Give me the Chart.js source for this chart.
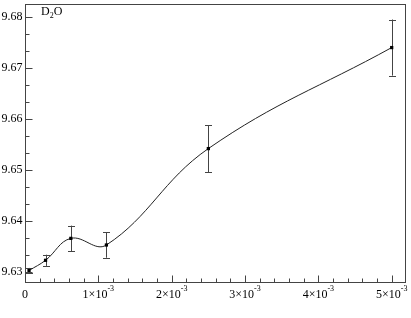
<!DOCTYPE html>
<html>
<head>
<meta charset="utf-8">
<script src="https://cdn.jsdelivr.net/npm/chart.js@4"></script>
<style>
  html, body { margin: 0; padding: 0; background: #fff; }
  #wrap { width: 411px; height: 318px; }
</style>
</head>
<body>
<div id="wrap"><canvas id="plot"></canvas></div>
<script>
// concentration (x) and measured value (y) with error bars
const xVals = [5.5e-5, 2.8e-4, 6.25e-4, 1.11e-3, 2.5e-3, 5.0e-3];
const yVals = [9.6303, 9.6323, 9.6366, 9.6353, 9.6542, 9.6740];
const yErr = [0.0005, 0.0011, 0.0025, 0.0025, 0.0046, 0.0055];

// tick labels
const xTicks = [0, 1e-3, 2e-3, 3e-3, 4e-3, 5e-3];
const xTickMant = ['0', '1', '2', '3', '4', '5'];
const yTicks = [9.63, 9.64, 9.65, 9.66, 9.67, 9.68];

const serif = '"Liberation Serif", "Times New Roman", serif';

// error bars drawn under the line
const errorBars = {
    id: 'errorBars',
    beforeDatasetsDraw(chart) {
        const { ctx, scales: { x, y } } = chart;
        ctx.save();
        ctx.strokeStyle = '#444';
        ctx.lineWidth = 1;
        xVals.forEach((xv, i) => {
            const px = Math.round(x.getPixelForValue(xv)) + 0.5;
            const top = y.getPixelForValue(yVals[i] + yErr[i]);
            const bot = y.getPixelForValue(yVals[i] - yErr[i]);
            ctx.beginPath();
            ctx.moveTo(px, top); ctx.lineTo(px, bot);
            ctx.moveTo(px - 3.5, Math.round(top) + 0.5); ctx.lineTo(px + 3.5, Math.round(top) + 0.5);
            ctx.moveTo(px - 3.5, Math.round(bot) + 0.5); ctx.lineTo(px + 3.5, Math.round(bot) + 0.5);
            ctx.stroke();
        });
        ctx.restore();
    }
};

// frame, inward ticks, labels
const frame = {
    id: 'frame',
    afterDraw(chart) {
        const { ctx, chartArea: a, scales: { x, y } } = chart;
        ctx.save();
        ctx.strokeStyle = '#444';
        ctx.lineWidth = 1;
        const L = Math.round(a.left) + 0.5, R = Math.round(a.right) - 0.5;
        const T = Math.round(a.top) + 0.5, B = Math.round(a.bottom) - 0.5;
        ctx.strokeRect(L, T, R - L, B - T);

        ctx.beginPath();
        // x ticks, minor every 2e-4
        for (let k = 0; k <= 26; k++) {
            const v = k * 2e-4;
            const px = Math.round(x.getPixelForValue(v)) + 0.5;
            if (px <= L || px >= R) continue;
            const len = (k % 5 === 0) ? 7 : 4;
            ctx.moveTo(px, B); ctx.lineTo(px, B - len);
        }
        // y ticks, minor every 0.01/3
        for (let k = -1; k <= 16; k++) {
            const v = 9.63 + k * 0.01 / 3;
            if (v < y.min || v > y.max) continue;
            const py = Math.round(y.getPixelForValue(v)) + 0.5;
            const len = (k % 3 === 0) ? 7 : 4;
            ctx.moveTo(L, py); ctx.lineTo(L + len, py);
        }
        ctx.stroke();

        ctx.fillStyle = '#000';
        ctx.font = '12px ' + serif;
        ctx.textBaseline = 'middle';
        ctx.textAlign = 'right';
        yTicks.forEach(v => {
            ctx.fillText(v.toFixed(2), L - 3, y.getPixelForValue(v));
        });

        // x labels with superscript exponent
        ctx.textAlign = 'left';
        xTicks.forEach((v, i) => {
            const px = x.getPixelForValue(v);
            const by = B + 12;
            if (v === 0) {
                ctx.font = '12px ' + serif;
                const w = ctx.measureText('0').width;
                ctx.fillText('0', px - w / 2, by);
                return;
            }
            const main = xTickMant[i] + '\u00d710';
            ctx.font = '12px ' + serif;
            const w1 = ctx.measureText(main).width;
            ctx.font = '8px ' + serif;
            const w2 = ctx.measureText('-3').width;
            const x0 = px - (w1 + w2) / 2;
            ctx.font = '12px ' + serif;
            ctx.fillText(main, x0, by);
            ctx.font = '8px ' + serif;
            ctx.fillText('-3', x0 + w1, by - 6);
        });

        // D2O label
        ctx.font = '12px ' + serif;
        ctx.fillText('D', 41, 12);
        const wd = ctx.measureText('D').width;
        ctx.font = '8px ' + serif;
        ctx.fillText('2', 41 + wd, 16);
        const w2 = ctx.measureText('2').width;
        ctx.font = '12px ' + serif;
        ctx.fillText('O', 41 + wd + w2, 12);
        ctx.restore();
    }
};

const plot = document.getElementById('plot').getContext('2d');
const myChart = new Chart(plot, {
    type: 'line',
    data: {
        datasets: [
            {
                label: 'D2O',
                data: xVals.map((xv, i) => ({ x: xv, y: yVals[i] })),
                borderColor: '#222',
                borderWidth: 1,
                tension: 0.4,
                pointStyle: 'rect',
                pointRadius: 2.3,
                pointBackgroundColor: '#000',
                pointBorderWidth: 0,
                fill: false,
            },
        ],
    },
    options: {
        responsive: true,
        maintainAspectRatio: false,
        animation: false,
        layout: { padding: { left: 25, right: 5, top: 3, bottom: 35 } },
        scales: {
            x: { type: 'linear', min: 0, max: 5.195e-3, display: false },
            y: { type: 'linear', min: 9.62785, max: 9.68254, display: false },
        },
        plugins: {
            legend: { display: false },
            tooltip: { enabled: false },
        },
    },
    plugins: [errorBars, frame],
});
</script>
</body>
</html>
